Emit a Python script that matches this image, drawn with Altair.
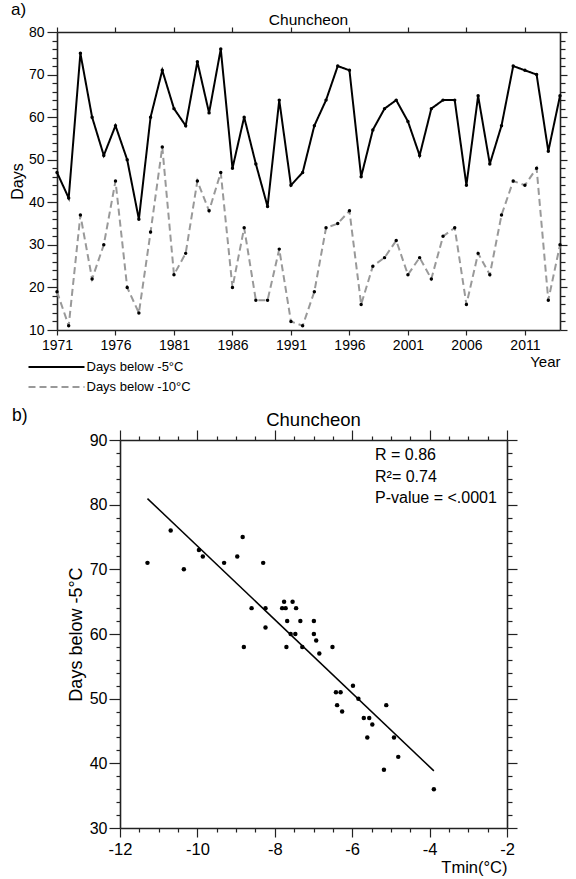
import altair as alt
import pandas as pd

FONT = "Liberation Sans"

# ---------------- data: panel a ----------------
years = list(range(1971, 2015))
days_below_5 = [47, 41, 75, 60, 51, 58, 50, 36, 60, 71,
                62, 58, 73, 61, 76, 48, 60, 49, 39, 64,
                44, 47, 58, 64, 72, 71, 46, 57, 62, 64,
                59, 51, 62, 64, 64, 44, 65, 49, 58, 72,
                71, 70, 52, 65]
days_below_10 = [19, 11, 37, 22, 30, 45, 20, 14, 33, 53,
                 23, 28, 45, 38, 47, 20, 34, 17, 17, 29,
                 12, 11, 19, 34, 35, 38, 16, 25, 27, 31,
                 23, 27, 22, 32, 34, 16, 28, 23, 37, 45,
                 44, 48, 17, 30]
series_names = ["Days below -5°C", "Days below -10°C"]
year_ticks = [1971, 1976, 1981, 1986, 1991, 1996, 2001, 2006, 2011]
days_major = [10, 20, 30, 40, 50, 60, 70, 80]
days_minor = [v for v in range(10, 81, 2) if v % 10 != 0]

# ---------------- data: panel b ----------------
tmin = [-11.29, -10.69, -10.35, -9.96, -9.86, -9.31, -8.97, -8.83, -8.30, -8.60,
        -8.24, -8.24, -8.80, -7.76, -7.54, -7.81, -7.72, -7.45, -7.68, -7.34,
        -6.99, -7.59, -7.47, -6.99, -6.93, -7.70, -7.29, -6.85, -6.51, -5.98,
        -6.42, -6.30, -5.84, -6.39, -5.12, -6.26, -5.70, -5.56, -5.48, -5.61,
        -4.92, -4.81, -5.18, -3.89]
days_b = [71, 76, 70, 73, 72, 71, 72, 75, 71, 64,
          64, 61, 58, 65, 65, 64, 64, 64, 62, 62,
          62, 60, 60, 60, 59, 58, 58, 57, 58, 52,
          51, 51, 50, 49, 49, 48, 47, 47, 46, 44,
          44, 41, 39, 36]
tmin_major = [-12, -10, -8, -6, -4, -2]
tmin_minor = [-12 + 0.5 * i for i in range(21) if i % 4 != 0]
days_b_major = [30, 40, 50, 60, 70, 80, 90]
days_b_minor = [v for v in range(30, 91, 2) if v % 10 != 0]
stats_text = "R = 0.86\nR²= 0.74\nP-value = <.0001"
station = "Chuncheon"

ts = pd.DataFrame({
    "year": years + years,
    "days": days_below_5 + days_below_10,
    "series": [series_names[0]] * len(years) + [series_names[1]] * len(years),
})
sc = pd.DataFrame({"tmin": tmin, "days": days_b})

W1, H1 = 503, 298
W2, H2 = 387, 388

axc = dict(domainColor="#222222", domainWidth=1.6, tickColor="#222222", tickWidth=1.2,
           labelColor="black", labelFont=FONT, titleFont=FONT, titleColor="black",
           titleFontWeight="normal", grid=False, labelOverlap=False, labelFlush=False,
           ticks=True)


def minor_axis(orient, values, size):
    return alt.Axis(orient=orient, values=values, labels=False, domain=False, tickSize=size,
                    title=None, **axc)


leg = alt.Legend(title=None, orient="none", legendX=-8.5, legendY=327,
                 symbolType="M-4,0H4", symbolSize=196, symbolStrokeWidth=2,
                 labelFontSize=13, labelFont=FONT, labelColor="black",
                 labelOffset=22, rowPadding=5, padding=0)

xs1 = alt.Scale(domain=[1971, 2014], nice=False, zero=False)
ys1 = alt.Scale(domain=[10, 80], nice=False, zero=False)

line = alt.Chart(ts).mark_line(strokeWidth=2).encode(
    x=alt.X("year:Q", scale=xs1,
            axis=alt.Axis(orient="bottom", values=year_ticks, labelExpr="'' + datum.value",
                          tickSize=5, labelFontSize=14, labelPadding=3, title="Year",
                          titleFontSize=15, titleAnchor="end", titlePadding=2, **axc)),
    y=alt.Y("days:Q", scale=ys1,
            axis=alt.Axis(orient="left", values=days_major, labelExpr="'' + datum.value",
                          tickSize=10, labelFontSize=14, labelPadding=3,
                          title="Days", titleFontSize=16, titlePadding=3, **axc)),
    color=alt.Color("series:N", scale=alt.Scale(domain=series_names, range=["black", "#999999"]),
                    legend=leg),
    strokeDash=alt.StrokeDash("series:N", scale=alt.Scale(domain=series_names, range=[[1, 0], [7, 4]]),
                              legend=leg),
)

pts = alt.Chart(ts).mark_circle(size=12, color="black", opacity=1).encode(
    x=alt.X("year:Q", axis=alt.Axis(orient="top", values=year_ticks, labels=False, tickSize=5,
                                    title=None, **axc)),
    y=alt.Y("days:Q", axis=alt.Axis(orient="right", values=days_major, labels=False,
                                    tickSize=7, title=None, **axc)),
)

minor1a = alt.Chart(ts).mark_circle(opacity=0).encode(
    x=alt.X("year:Q", axis=None),
    y=alt.Y("days:Q", axis=minor_axis("left", days_minor, 5)),
)
minor1b = alt.Chart(ts).mark_circle(opacity=0).encode(
    x=alt.X("year:Q", axis=None),
    y=alt.Y("days:Q", axis=minor_axis("right", days_minor, 5)),
)

a_lab = alt.Chart(pd.DataFrame({"t": ["a)"]})).mark_text(
    font=FONT, fontSize=17, align="left", baseline="alphabetic", color="black"
).encode(text="t:N", x=alt.value(-46), y=alt.value(-17))

title1 = alt.Chart(pd.DataFrame({"t": [station]})).mark_text(
    font=FONT, fontSize=15.5, align="center", baseline="alphabetic", color="black"
).encode(text="t:N", x=alt.value(W1 / 2), y=alt.value(-7.5))

top = alt.layer(line, pts, minor1a, minor1b, a_lab, title1).resolve_axis(
    x="independent", y="independent").properties(width=W1, height=H1)

# ---------------- panel b ----------------
xs2 = alt.Scale(domain=[-12, -2], nice=False, zero=False)
ys2 = alt.Scale(domain=[30, 90], nice=False, zero=False)

pts2 = alt.Chart(sc).mark_circle(size=20, color="black", opacity=1).encode(
    x=alt.X("tmin:Q", scale=xs2,
            axis=alt.Axis(orient="bottom", values=tmin_major, labelExpr="'' + datum.value",
                          tickSize=9, labelFontSize=16.5, labelPadding=4,
                          title="Tmin(°C)", titleFontSize=16.5, titleAnchor="end",
                          titlePadding=2, **axc)),
    y=alt.Y("days:Q", scale=ys2,
            axis=alt.Axis(orient="left", values=days_b_major, labelExpr="'' + datum.value",
                          tickSize=11, labelFontSize=16, labelPadding=2,
                          title="Days below -5°C", titleFontSize=18, titlePadding=4, **axc)),
)

reg = alt.Chart(sc).transform_regression("tmin", "days").mark_line(
    color="black", strokeWidth=1.5
).encode(
    x=alt.X("tmin:Q", axis=alt.Axis(orient="top", values=tmin_major, labels=False,
                                    tickSize=10, title=None, **axc)),
    y=alt.Y("days:Q", axis=alt.Axis(orient="right", values=days_b_major, labels=False,
                                    tickSize=10, title=None, **axc)),
)

minor2a = alt.Chart(sc).mark_circle(opacity=0).encode(
    x=alt.X("tmin:Q", axis=minor_axis("bottom", tmin_minor, 4)),
    y=alt.Y("days:Q", axis=minor_axis("left", days_b_minor, 4)),
)
minor2b = alt.Chart(sc).mark_circle(opacity=0).encode(
    x=alt.X("tmin:Q", axis=minor_axis("top", tmin_minor, 4)),
    y=alt.Y("days:Q", axis=minor_axis("right", days_b_minor, 5)),
)

stats = alt.Chart(pd.DataFrame({"t": [stats_text]})).mark_text(
    font=FONT, fontSize=16, align="left", baseline="alphabetic", color="black",
    lineBreak="\n", lineHeight=21.5
).encode(text="t:N", x=alt.value(255), y=alt.value(20))

b_lab = alt.Chart(pd.DataFrame({"t": ["b)"]})).mark_text(
    font=FONT, fontSize=17.5, align="left", baseline="alphabetic", color="black"
).encode(text="t:N", x=alt.value(-108), y=alt.value(-18.6))

title2 = alt.Chart(pd.DataFrame({"t": [station]})).mark_text(
    font=FONT, fontSize=18.5, align="center", baseline="alphabetic", color="black"
).encode(text="t:N", x=alt.value(W2 / 2), y=alt.value(-14.3))

bottom = alt.layer(pts2, reg, minor2a, minor2b, stats, b_lab, title2).resolve_axis(
    x="independent", y="independent").properties(width=W2, height=H2)

spacer = alt.Chart(pd.DataFrame({"v": [0]})).mark_point(opacity=0).encode(
    x=alt.value(0), y=alt.value(0)).properties(width=63, height=H2)

row2 = alt.hconcat(spacer, bottom, spacing=0, bounds="flush")

chart = alt.vconcat(top, row2, spacing=110, bounds="flush").properties(
    padding={"left": 8, "top": 0, "right": 0, "bottom": 0},
    background="white",
).configure(font=FONT, view=alt.ViewConfig(stroke="transparent"))

chart.save("out.html", embed_options={"renderer": "svg", "actions": False})
